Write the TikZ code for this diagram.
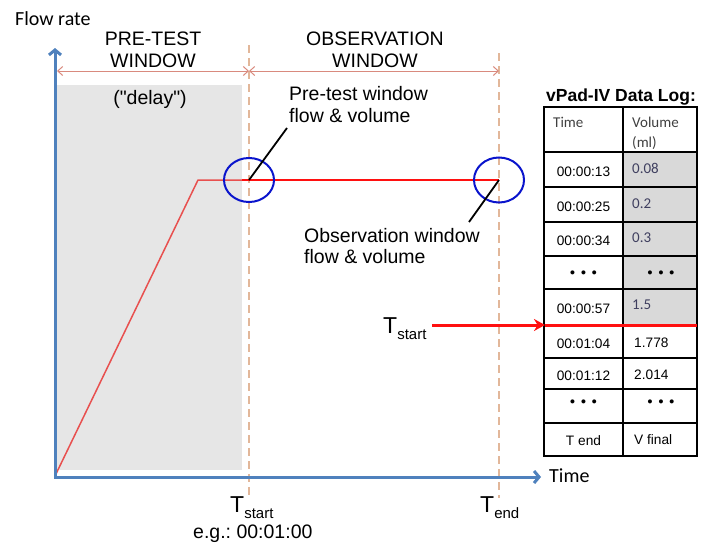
\documentclass[tikz,border=0pt]{standalone}
\usepackage{fontspec}
\setmainfont{Liberation Sans}[Ligatures=TeXOff]
\newfontfamily\calfont{Carlito}
\usetikzlibrary{arrows.meta}
\frenchspacing
\definecolor{axisblue}{HTML}{4F81BD}
\definecolor{dashtan}{HTML}{E2B79A}
\definecolor{dimred}{HTML}{D98A7E}
\definecolor{boxgray}{HTML}{E6E6E6}
\definecolor{cellgray}{HTML}{D9D9D9}
\definecolor{ringblue}{HTML}{0A14CC}
\definecolor{linered}{HTML}{FF1010}
\definecolor{rampred}{HTML}{E8504F}
\definecolor{hdrgray}{HTML}{404040}
\definecolor{valgray}{HTML}{3F3F5F}
\newcommand{\subtxt}[1]{{\fontsize{15}{15}\selectfont\raisebox{-6pt}{#1}}}
\newcommand{\dotrow}{\textbullet\hspace{6pt}\textbullet\hspace{6pt}\textbullet}
\begin{document}
\begin{tikzpicture}[x=1pt,y=-1pt,
  txt/.style={inner sep=0pt, font=\fontsize{19.5}{22}\selectfont},
  cal/.style={inner sep=0pt, font=\calfont\fontsize{20}{22}\selectfont},
  axisline/.style={axisblue, line width=3pt, -{Straight Barb[length=5pt,width=12pt]}},
  guide/.style={dashtan, line width=2pt, dash pattern=on 8pt off 5pt},
  dimline/.style={dimred, line width=1pt, {Straight Barb[length=5pt,width=9pt]}-{Straight Barb[length=5pt,width=9pt]}},
  ring/.style={ringblue, line width=2pt},
  callout/.style={black, line width=1.8pt},
  grid/.style={black, line width=1.5pt},
  tcell/.style={inner sep=0pt, font=\fontsize{13.7}{15}\selectfont},
  vcell/.style={inner sep=0pt, font=\calfont\fontsize{15}{16}\selectfont, text=valgray},
  hcell/.style={inner sep=0pt, font=\calfont\fontsize{15}{16}\selectfont, text=hdrgray},
  dots/.style={inner sep=0pt, font=\bfseries\fontsize{14}{14}\selectfont}]
\useasboundingbox (0,0) rectangle (704,546);

% grey pre-test area
\fill[boxgray] (57,85) rectangle (242,470);

% key points
\coordinate (O) at (55,476);
\coordinate (ytip) at (55,48);
\coordinate (xtip) at (541,477);
\coordinate (knee) at (198,180);
\coordinate (ps) at (249,180);
\coordinate (pe) at (499,180);
\coordinate (ds0) at (57,71);
\coordinate (ds1) at (249,71);
\coordinate (ds2) at (499,71);
\coordinate (gs0) at (249,45);
\coordinate (gs1) at (249,495);
\coordinate (ge0) at (499,53);
\coordinate (ge1) at (499,498);
\coordinate (c1) at (287,128);
\coordinate (c2) at (469,222);

% guides
\draw[guide] (gs0) -- (gs1);
\draw[guide] (ge0) -- (ge1);

% dimension arrows
\draw[dimline] (ds0) -- (ds1);
\draw[dimline] (ds1) -- (ds2);

% flow curve
\draw[rampred, line width=1.5pt, line join=round] (O) -- (knee) -- (ps);
\draw[linered, line width=2.5pt] (242,180) -- (pe);

% axes
\draw[axisline] (55,477) -- (ytip);
\draw[axisline] (54,477) -- (xtip);

% rings and callouts
\draw[ring] (ps) ellipse [x radius=25pt, y radius=22pt];
\draw[ring] (pe) ellipse [x radius=25pt, y radius=22.5pt];
\draw[callout] (ps) -- (c1);
\draw[callout] (pe) -- (c2);

% labels
\node[cal, anchor=base west] (flow) at (15,25) {Flow rate};
\node[cal, anchor=base west] (time) at (549,482) {Time};
\node[txt, anchor=base] (pt1) at (153,45) {PRE-TEST};
\node[txt, anchor=base] (pt2) at (153,67) {WINDOW};
\node[txt, anchor=base] (ob1) at (375,45) {OBSERVATION};
\node[txt, anchor=base] (ob2) at (375,67) {WINDOW};
\node[txt, anchor=base] (delay) at (150,104) {("delay")};
\node[txt, anchor=base west] (pw1) at (289,100) {Pre-test window};
\node[txt, anchor=base west] (pw2) at (289,122) {flow \& volume};
\node[txt, anchor=base west] (ow1) at (304,242) {Observation window};
\node[txt, anchor=base west] (ow2) at (304,263) {flow \& volume};
\node[txt, anchor=base west, font=\fontsize{23}{24}\selectfont] (tsm) at (383,333) {T\subtxt{start}};
\node[txt, anchor=base west, font=\fontsize{23}{24}\selectfont] (tsb) at (230,512) {T\subtxt{start}};
\node[txt, anchor=base west, font=\fontsize{23}{24}\selectfont] (teb) at (480,512) {T\subtxt{end}};
\node[txt, anchor=base west] (eg) at (193,538) {e.g.: 00:01:00};

% table
\node[inner sep=0pt, anchor=base, font=\bfseries\fontsize{17.5}{18}\selectfont] (title) at (621,101) {vPad-IV Data Log:};
\fill[cellgray] (623,152) rectangle (697,325);
\draw[grid] (544,107) rectangle (697,456);
\draw[grid] (623,107) -- (623,456);
\foreach \yy in {152,187,222,256,289,358,389,423}
  \draw[grid] (544,\yy) -- (697,\yy);

\node[hcell, anchor=base west] (hT) at (553,127) {Time};
\node[hcell, anchor=base west] (hV1) at (632,127) {Volume};
\node[hcell, anchor=base west] (hV2) at (632,147) {(ml)};

\node[tcell, anchor=base] (t1) at (583.5,176) {00:00:13};
\node[tcell, anchor=base] (t2) at (583.5,211) {00:00:25};
\node[tcell, anchor=base] (t3) at (583.5,245) {00:00:34};
\node[dots, anchor=base] (t4) at (583.5,277) {\dotrow};
\node[tcell, anchor=base] (t5) at (583.5,313) {00:00:57};
\node[tcell, anchor=base] (t6) at (583.5,348) {00:01:04};
\node[tcell, anchor=base] (t7) at (583.5,380) {00:01:12};
\node[dots, anchor=base] (t8) at (583.5,406) {\dotrow};
\node[tcell, anchor=base] (t9) at (583.5,445) {T end};

\node[vcell, anchor=base west] (v1) at (632,173) {0.08};
\node[vcell, anchor=base west] (v2) at (632,208) {0.2};
\node[vcell, anchor=base west] (v3) at (632,242) {0.3};
\node[dots, anchor=base] (v4) at (661,277) {\dotrow};
\node[vcell, anchor=base west] (v5) at (632,309) {1.5};
\node[tcell, anchor=base west] (v6) at (634,347) {1.778};
\node[tcell, anchor=base west] (v7) at (634,379) {2.014};
\node[dots, anchor=base] (v8) at (661,406) {\dotrow};
\node[tcell, anchor=base west] (v9) at (634,444) {V final};

% T_start marker
\coordinate (rs) at (432,325);
\coordinate (rt) at (545,325);
\coordinate (re) at (697,325);
\draw[linered, line width=3pt, -{Stealth[length=11pt,width=12pt]}] (rs) -- (rt);
\draw[linered, line width=3pt] (rt) -- (re);
\end{tikzpicture}
\end{document}
